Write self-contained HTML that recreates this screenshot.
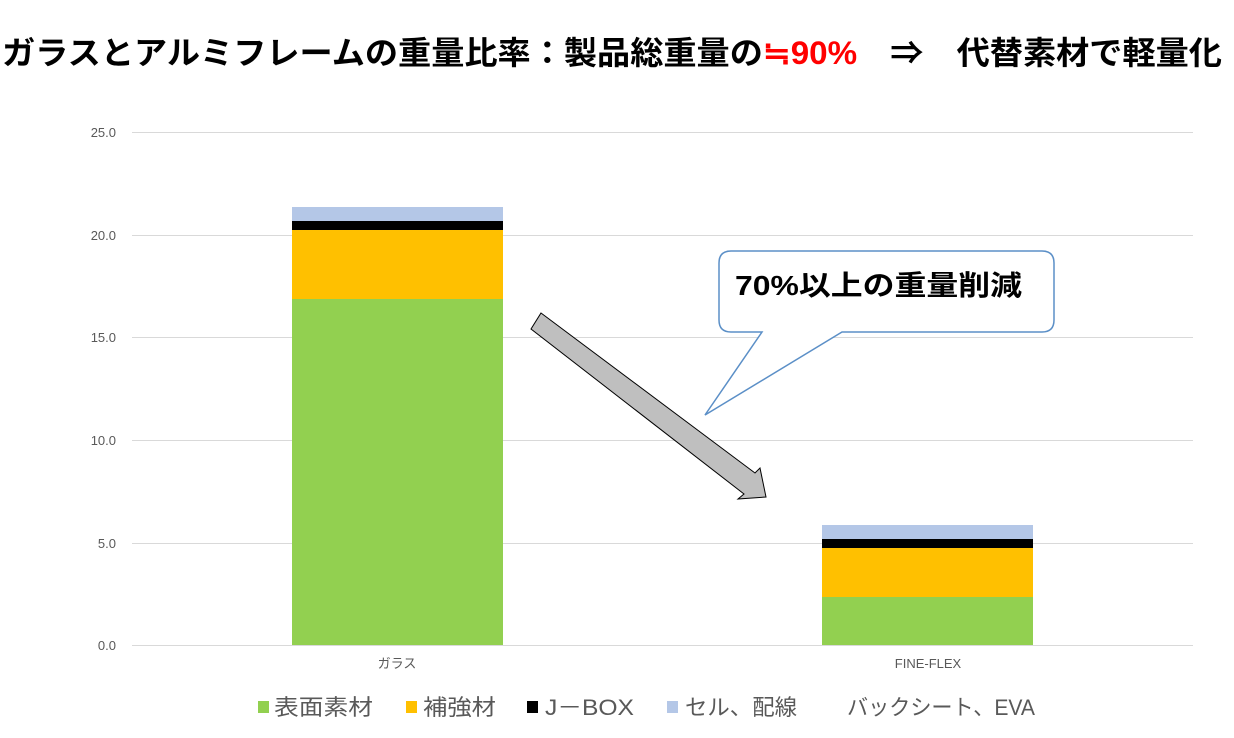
<!DOCTYPE html>
<html><head><meta charset="utf-8"><style>
html,body{margin:0;padding:0;background:#fff;}
svg{display:block;}
</style></head><body>
<svg width="1234" height="738" xmlns="http://www.w3.org/2000/svg" font-family="'Liberation Sans','Noto Sans CJK JP',sans-serif">
<text x="2" y="64" font-size="32" font-weight="bold" textLength="1220" lengthAdjust="spacingAndGlyphs">ガラスとアルミフレームの重量比率：製品総重量の<tspan fill="#ff0000">≒90%</tspan>　⇒　代替素材で軽量化</text>
<g stroke="#d9d9d9" stroke-width="1">
<line x1="132" y1="132.5" x2="1193" y2="132.5"/>
<line x1="132" y1="235.5" x2="1193" y2="235.5"/>
<line x1="132" y1="337.5" x2="1193" y2="337.5"/>
<line x1="132" y1="440.5" x2="1193" y2="440.5"/>
<line x1="132" y1="543.5" x2="1193" y2="543.5"/>
<line x1="132" y1="645.5" x2="1193" y2="645.5"/>
</g>
<g font-size="13" fill="#595959" text-anchor="end">
<text x="116" y="137">25.0</text>
<text x="116" y="240">20.0</text>
<text x="116" y="342">15.0</text>
<text x="116" y="445">10.0</text>
<text x="116" y="548">5.0</text>
<text x="116" y="650">0.0</text>
</g>
<rect x="292" y="299" width="211" height="346" fill="#92d050"/>
<rect x="292" y="230" width="211" height="69" fill="#ffc000"/>
<rect x="292" y="221" width="211" height="9" fill="#000"/>
<rect x="292" y="207" width="211" height="14" fill="#b4c7e7"/>
<rect x="822" y="597" width="211" height="48" fill="#92d050"/>
<rect x="822" y="548" width="211" height="49" fill="#ffc000"/>
<rect x="822" y="539" width="211" height="9" fill="#000"/>
<rect x="822" y="525" width="211" height="14" fill="#b4c7e7"/>
<line x1="132" y1="645.5" x2="1193" y2="645.5" stroke="#d9d9d9"/>
<g font-size="13" fill="#595959" text-anchor="middle">
<text x="397" y="668">ガラス</text>
<text x="928" y="668">FINE-FLEX</text>
</g>
<g font-size="22" fill="#595959">
<rect x="258" y="701" width="11" height="12" fill="#92d050"/><text x="274" y="715" textLength="99" lengthAdjust="spacingAndGlyphs">表面素材</text>
<rect x="406" y="701" width="11" height="12" fill="#ffc000"/><text x="423" y="715" textLength="73" lengthAdjust="spacingAndGlyphs">補強材</text>
<rect x="527" y="701" width="11" height="12" fill="#000"/><text x="545" y="715" textLength="89" lengthAdjust="spacingAndGlyphs">J－BOX</text>
<rect x="667" y="701" width="11" height="12" fill="#b4c7e7"/><text x="685" y="715" textLength="112" lengthAdjust="spacingAndGlyphs">セル、配線</text>
<text x="847" y="715" textLength="188" lengthAdjust="spacingAndGlyphs">バックシート、EVA</text>
</g>
<polygon points="541,313 755,473 760,468 766,497 738,499 744,494 531,329" fill="#bfbfbf" stroke="#000" stroke-width="1"/>
<path d="M732,251 H1042 Q1054,251 1054,263 V320 Q1054,332 1042,332 H842 L705,415 L762,332 H731 Q719,332 719,320 V263 Q719,251 731,251 Z" fill="#fff" stroke="#5b8fc7" stroke-width="1.5"/>
<text x="735" y="295" font-size="28" font-weight="bold" fill="#000" textLength="287" lengthAdjust="spacingAndGlyphs">70%以上の重量削減</text>
</svg>
</body></html>
